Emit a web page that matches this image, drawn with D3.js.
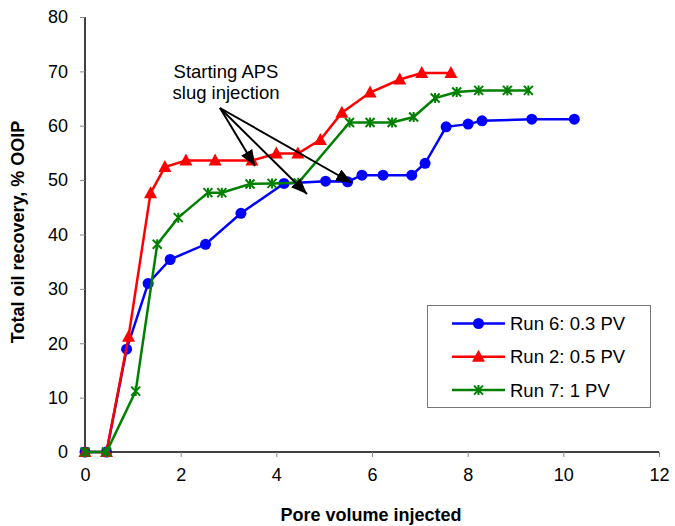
<!DOCTYPE html>
<html><head><meta charset="utf-8">
<script src="https://cdn.jsdelivr.net/npm/d3@7"></script>
<style>body{margin:0;background:#fff}svg{display:block}text{font-family:Arial,"Liberation Sans",sans-serif}</style>
</head><body><svg id="c" width="675" height="526"></svg>
<script>
const run6X = [0, 0.45, 0.87, 1.32, 1.78, 2.52, 3.26, 4.16, 5.03, 5.49, 5.79, 6.23, 6.83, 7.11, 7.55, 8.01, 8.30, 9.34, 10.23];
const run6Y = [0, 0, 18.9, 31.0, 35.4, 38.2, 43.9, 49.4, 49.8, 49.7, 50.9, 50.9, 50.9, 53.1, 59.8, 60.3, 60.9, 61.2, 61.2];
const run2X = [0, 0.45, 0.91, 1.37, 1.67, 2.11, 2.72, 3.49, 4.0, 4.45, 4.92, 5.37, 5.96, 6.58, 7.04, 7.65];
const run2Y = [0, 0, 21.2, 47.6, 52.4, 53.6, 53.6, 53.6, 54.9, 54.9, 57.4, 62.4, 66.1, 68.5, 69.7, 69.7];
const run7X = [0, 0.45, 1.06, 1.51, 1.95, 2.57, 2.86, 3.45, 3.91, 4.46, 5.53, 5.96, 6.42, 6.87, 7.32, 7.77, 8.23, 8.83, 9.27];
const run7Y = [0, 0, 11.2, 38.2, 43.1, 47.7, 47.7, 49.3, 49.4, 49.5, 60.6, 60.6, 60.6, 61.6, 65.1, 66.2, 66.5, 66.5, 66.5];
const seriesNames = ["Run 6: 0.3 PV", "Run 2: 0.5 PV", "Run 7: 1 PV"];
const xTicks = [0, 2, 4, 6, 8, 10, 12];
const yTicks = [0, 10, 20, 30, 40, 50, 60, 70, 80];
const annoLines = ["Starting APS", "slug injection"];

const svg = d3.select("#c");
const x = d3.scaleLinear().domain([0, 12]).range([85, 659]);
const y = d3.scaleLinear().domain([0, 80]).range([452, 17]);

// axes
const xa = svg.append("g").attr("transform", "translate(0,452)")
  .call(d3.axisBottom(x).tickValues(xTicks).tickSize(5).tickPadding(11));
const ya = svg.append("g").attr("transform", "translate(85,0)")
  .call(d3.axisLeft(y).tickValues(yTicks).tickSize(5).tickPadding(12));
[xa, ya].forEach(a => {
  a.select(".domain").attr("stroke", "#000").attr("stroke-width", 1.5);
  a.selectAll(".tick line").attr("stroke", "#888");
  a.selectAll(".tick text").attr("font-size", 18).attr("fill", "#000")
    .attr("font-family", "Arial, 'Liberation Sans', sans-serif");
});
ya.select(".domain").attr("d", `M0,${y(0)}V${y(80)}`);
xa.select(".domain").attr("d", `M${x(0)},0H${x(12)}`);

svg.append("text").attr("x", 371).attr("y", 521).attr("text-anchor", "middle")
  .attr("font-size", 18).attr("font-weight", "bold").text("Pore volume injected");
svg.append("text").attr("transform", "translate(24,232) rotate(-90)").attr("text-anchor", "middle")
  .attr("font-size", 18).attr("font-weight", "bold").text("Total oil recovery, % OOIP");

const series = [
  {xs: run6X, ys: run6Y, color: "#0000ff", marker: "circle"},
  {xs: run2X, ys: run2Y, color: "#ff0000", marker: "triangle"},
  {xs: run7X, ys: run7Y, color: "#008000", marker: "star"}
];
const line = d3.line().x(d => x(d[0])).y(d => y(d[1]));

function drawMarker(g, type, color, cx, cy) {
  if (type === "circle") {
    g.append("circle").attr("cx", cx).attr("cy", cy).attr("r", 5.5).attr("fill", color);
  } else if (type === "triangle") {
    g.append("path").attr("d", `M${cx},${cy-7}L${cx+6.5},${cy+5}L${cx-6.5},${cy+5}Z`).attr("fill", color);
  } else {
    const s = 4.5;
    g.append("path").attr("d", `M${cx-s},${cy-s}L${cx+s},${cy+s}M${cx-s},${cy+s}L${cx+s},${cy-s}M${cx},${cy-s-0.5}L${cx},${cy+s+0.5}`)
      .attr("stroke", color).attr("stroke-width", 2).attr("fill", "none");
  }
}

series.forEach(s => {
  const pts = s.xs.map((v, i) => [v, s.ys[i]]);
  svg.append("path").datum(pts).attr("d", line).attr("fill", "none")
    .attr("stroke", s.color).attr("stroke-width", 2.5);
  const g = svg.append("g");
  pts.forEach(p => drawMarker(g, s.marker, s.color, x(p[0]), y(p[1])));
});

// annotation
annoLines.forEach((t, i) => {
  svg.append("text").attr("x", 226).attr("y", 78 + i * 21).attr("text-anchor", "middle")
    .attr("font-size", 18.5).text(t);
});
svg.append("defs").append("marker").attr("id", "ah").attr("viewBox", "0 0 16 13")
  .attr("refX", 16).attr("refY", 6.5).attr("markerWidth", 8).attr("markerHeight", 6.5)
  .attr("orient", "auto").attr("markerUnits", "strokeWidth")
  .append("path").attr("d", "M0,0L16,6.5L0,13Z").attr("fill", "#000");
const ox = 220, oy = 108;
const tips = [[255, 166], [307, 194], [352, 183]];
tips.forEach(t => {
  svg.append("line").attr("x1", ox).attr("y1", oy).attr("x2", t[0]).attr("y2", t[1])
    .attr("stroke", "#000").attr("stroke-width", 2).attr("marker-end", "url(#ah)");
});

// legend
const lg = svg.append("g");
lg.append("rect").attr("x", 427.5).attr("y", 305.5).attr("width", 223).attr("height", 102)
  .attr("fill", "#fff").attr("stroke", "#777").attr("stroke-width", 1);
seriesNames.forEach((n, i) => {
  const yy = 323.5 + i * 33.3;
  lg.append("line").attr("x1", 452).attr("x2", 505).attr("y1", yy).attr("y2", yy)
    .attr("stroke", series[i].color).attr("stroke-width", 2.5);
  drawMarker(lg, series[i].marker, series[i].color, 478.5, yy);
  lg.append("text").attr("x", 510).attr("y", yy + 6.5).attr("font-size", 18.5).text(n);
});
</script></body></html>
